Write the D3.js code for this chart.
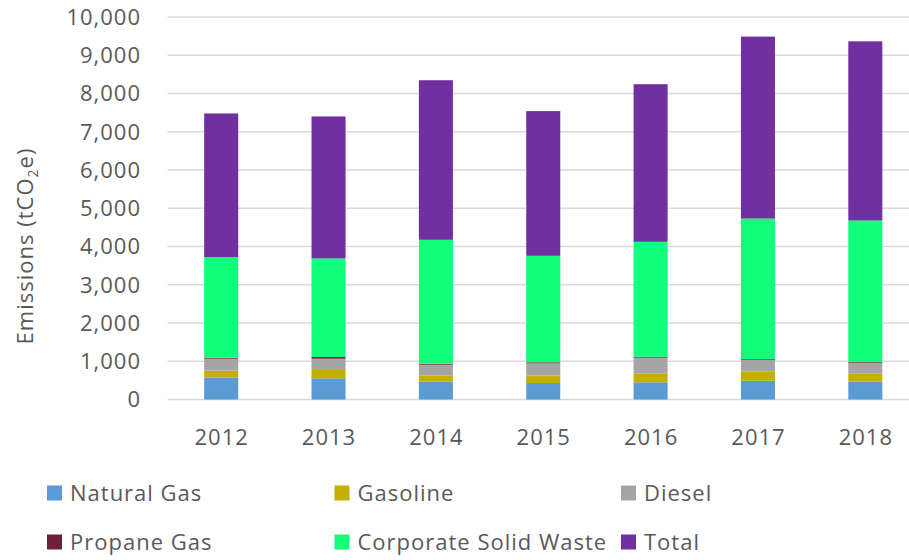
<!DOCTYPE html>
<html>
<head>
<meta charset="utf-8">
<script src="https://cdn.jsdelivr.net/npm/d3@7"></script>
<style>
  body { margin: 0; background: #fff; }
  text { font-family: "Open Sans", sans-serif; fill: #595959; letter-spacing: 1px; }
</style>
</head>
<body>
<div id="root"></div>
<script>
// chart data (tCO2e)
const years = ['2012', '2013', '2014', '2015', '2016', '2017', '2018']
const seriesNames = ['Natural Gas', 'Gasoline', 'Diesel', 'Propane Gas', 'Corporate Solid Waste', 'Total']
const naturalGas = [570, 554, 465, 431, 450, 491, 465]
const gasoline = [183, 217, 157, 191, 224, 236, 209]
const diesel = [314, 296, 288, 324, 419, 314, 288]
const propaneGas = [26, 44, 26, 26, 26, 18, 18]
const solidWaste = [2630, 2576, 3239, 2785, 3004, 3672, 3699]
const total = [3755, 3713, 4172, 3783, 4120, 4757, 4686]
const yTicks = [0, 1000, 2000, 3000, 4000, 5000, 6000, 7000, 8000, 9000, 10000]
const colors = ['#5b9bd5', '#c4ae00', '#a5a5a5', '#6e1f3c', '#12ff7c', '#7030a0']

const w = 909, h = 560
const plotLeft = 167.5, plotRight = 919, plotTop = 17, plotBottom = 399.5

// one row per year, keyed by series name
const rows = years.map((yr, i) => ({
    year: yr,
    'Natural Gas': naturalGas[i],
    'Gasoline': gasoline[i],
    'Diesel': diesel[i],
    'Propane Gas': propaneGas[i],
    'Corporate Solid Waste': solidWaste[i],
    'Total': total[i]
}))

const stacked = d3.stack().keys(seriesNames)(rows)

const svg = d3.select('#root')
    .append('svg')
    .attr('width', w)
    .attr('height', h)

const x = d3.scaleBand()
    .domain(years)
    .range([plotLeft, plotRight])
    .paddingInner(0.683)
    .paddingOuter(0.3415)

const y = d3.scaleLinear()
    .domain([0, 10000])
    .range([plotBottom, plotTop])

// gridlines
svg.append('g')
    .selectAll('line')
    .data(yTicks)
    .enter()
    .append('line')
    .attr('x1', plotLeft)
    .attr('x2', plotRight)
    .attr('y1', d => y(d))
    .attr('y2', d => y(d))
    .attr('stroke', '#d9d9d9')
    .attr('stroke-width', 1.5)

// y tick labels
const fmt = d3.format(',')
svg.append('g')
    .selectAll('text')
    .data(yTicks)
    .enter()
    .append('text')
    .attr('x', 141)
    .attr('y', d => y(d))
    .attr('dy', '0.36em')
    .attr('text-anchor', 'end')
    .style('font-size', '22px')
    .text(d => fmt(d))

// x tick labels
svg.append('g')
    .selectAll('text')
    .data(years)
    .enter()
    .append('text')
    .attr('x', d => x(d) + x.bandwidth() / 2 + 0.5)
    .attr('y', 445)
    .attr('text-anchor', 'middle')
    .style('font-size', '22px')
    .text(d => d)

// stacked bars
svg.append('g')
    .selectAll('g')
    .data(stacked)
    .enter()
    .append('g')
    .attr('fill', (d, i) => colors[i])
    .selectAll('rect')
    .data(d => d)
    .enter()
    .append('rect')
    .attr('x', d => x(d.data.year))
    .attr('y', d => y(d[1]))
    .attr('width', x.bandwidth())
    .attr('height', d => y(d[0]) - y(d[1]))

// y axis title with subscript
const title = svg.append('text')
    .attr('transform', 'translate(33,246) rotate(-90)')
    .attr('text-anchor', 'middle')
    .style('font-size', '22px')
title.append('tspan').text('Emissions (tCO')
title.append('tspan').attr('dy', 5).style('font-size', '14px').text('2')
title.append('tspan').attr('dy', -5).text('e)')

// legend, three columns by two rows
const legendX = [47, 334.5, 621]
const legendY = [493, 542]
const legend = svg.append('g')
    .selectAll('g')
    .data(seriesNames)
    .enter()
    .append('g')
    .attr('transform', (d, i) => `translate(${legendX[i % 3]},${legendY[Math.floor(i / 3)]})`)

legend.append('rect')
    .attr('x', 0)
    .attr('y', -7.5)
    .attr('width', 15)
    .attr('height', 15)
    .attr('fill', (d, i) => colors[i])

legend.append('text')
    .attr('x', 23)
    .attr('y', 0)
    .attr('dy', '0.36em')
    .style('font-size', '22px')
    .text(d => d)
</script>
</body>
</html>
